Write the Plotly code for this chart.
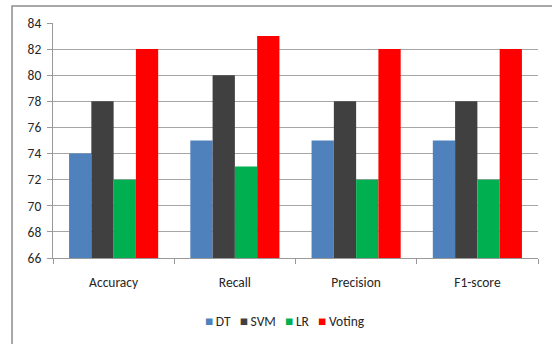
import plotly.graph_objects as go

categories = ["Accuracy", "Recall", "Precision", "F1-score"]
dt = [74, 75, 75, 75]
svm = [78, 80, 78, 78]
lr = [72, 73, 72, 72]
voting = [82, 83, 82, 82]
y_ticks = [66, 68, 70, 72, 74, 76, 78, 80, 82, 84]

series = [("DT", dt, "#4F81BD"), ("SVM", svm, "#404040"), ("LR", lr, "#00B050"), ("Voting", voting, "#FF0000")]

fig = go.Figure()
for name, vals, col in series:
    fig.add_trace(go.Bar(x=categories, y=vals, name=name, marker=dict(color=col, line=dict(width=0)),
                         showlegend=False))

legend_text = "&nbsp;&nbsp;&nbsp;".join(
    f"<span style='color:{col}'>■</span>&#8201;{name}" for name, _, col in series
)

font_family = "Carlito, Lato, 'Liberation Sans', Arial, sans-serif"
fig.update_layout(
    width=552, height=344,
    margin=dict(l=53, r=14, t=23, b=86, autoexpand=False),
    paper_bgcolor="white", plot_bgcolor="white",
    barmode="group", bargap=0.265, bargroupgap=0,
    font=dict(family=font_family, size=13, color="#262626"),
    showlegend=False,
    xaxis=dict(showgrid=False, showline=True, linecolor="#999999", linewidth=1,
               ticks="outside", tickson="boundaries", ticklen=5, tickcolor="#999999",
               tickfont=dict(size=13.5), automargin=False, ticklabelstandoff=12),
    yaxis=dict(range=[66, 84], tickvals=y_ticks, showgrid=True, gridcolor="#A6A6A6", gridwidth=1,
               showline=True, linecolor="#999999", linewidth=1, ticks="outside", ticklen=5,
               tickcolor="#999999", tickfont=dict(size=13.5), zeroline=False,
               ticklabelstandoff=3, automargin=False),
    annotations=[dict(text=legend_text, xref="paper", yref="paper", x=0.478, y=-0.272,
                      xanchor="center", yanchor="middle", showarrow=False,
                      font=dict(size=13.5, color="#262626"))],
    shapes=[dict(type="rect", xref="paper", yref="paper", x0=-0.0845, x1=1.5, y0=-0.8, y1=1.072,
                 line=dict(color="#8C8C8C", width=1.5), fillcolor="rgba(0,0,0,0)", layer="above")],
)
fig.write_html("out.html", config={"displayModeBar": False},
               post_script="document.body.style.margin='0';document.body.style.overflow='hidden';")
